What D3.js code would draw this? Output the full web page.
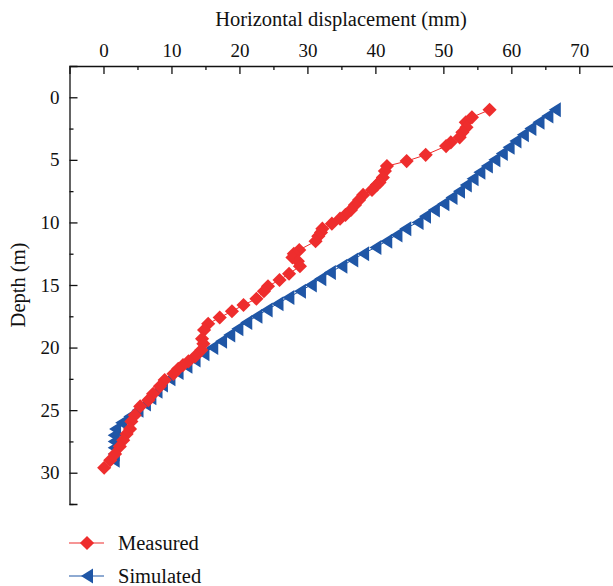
<!DOCTYPE html>
<html>
<head>
<meta charset="utf-8">
<script src="https://cdn.jsdelivr.net/npm/d3@7"></script>
<style>
  body { margin: 0; background: #fff; }
  text { font-family: "Liberation Serif", "Times New Roman", serif; fill: #111; }
</style>
</head>
<body>
<svg id="chart" width="613" height="586"></svg>
<script>
// measured: depth (m) and horizontal displacement (mm)
const measuredDepth = [1.0, 1.6, 2.0, 2.4, 2.8, 3.2, 3.6, 3.9, 4.6, 5.1, 5.5, 5.9, 6.4, 6.8, 7.0, 7.4, 7.8, 8.2, 8.6, 9.0,
  9.4, 9.7, 10.1, 10.5, 10.8, 11.1, 11.5, 12.2, 12.5, 12.8, 13.1, 13.5, 14.1, 14.6, 15.1, 15.5, 16.1, 16.6, 17.1, 17.6,
  18.1, 18.6, 19.3, 19.7, 20.2, 20.7, 21.1, 21.4, 21.7, 22.1, 22.6, 23.1, 23.7, 24.2, 24.7, 25.4, 25.9, 26.5, 26.9, 27.4,
  27.9, 28.5, 29.0, 29.6];
const measuredDisp = [56.8, 54.2, 53.3, 53.4, 52.8, 52.4, 51.1, 50.4, 47.4, 44.6, 41.7, 41.4, 41.1, 40.6, 40.2, 39.5, 38.2, 37.6, 37.0, 36.4,
  35.6, 34.8, 33.6, 32.2, 32.0, 31.6, 31.2, 28.8, 28.0, 27.8, 28.6, 28.9, 27.3, 25.9, 24.2, 23.6, 22.5, 20.6, 18.9, 17.1,
  15.4, 14.8, 14.5, 14.7, 14.4, 13.5, 12.5, 11.7, 11.0, 10.3, 9.0, 8.3, 7.3, 6.6, 5.4, 4.6, 4.1, 3.9, 3.4, 2.9,
  2.4, 1.7, 1.0, 0.1];

// simulated: every 0.5 m from 1 m to 29 m
const simulatedDepth = [1.0, 1.5, 2.0, 2.5, 3.0, 3.5, 4.0, 4.5, 5.0, 5.5, 6.0, 6.5, 7.0, 7.5, 8.0, 8.5, 9.0, 9.5, 10.0, 10.5,
  11.0, 11.5, 12.0, 12.5, 13.0, 13.5, 14.0, 14.5, 15.0, 15.5, 16.0, 16.5, 17.0, 17.5, 18.0, 18.5, 19.0, 19.5, 20.0, 20.5,
  21.0, 21.5, 22.0, 22.5, 23.0, 23.5, 24.0, 24.5, 25.0, 25.5, 26.0, 26.5, 27.0, 27.5, 28.0, 28.5, 29.0];
const simulatedDisp = [66.4, 65.3, 64.0, 62.8, 61.7, 60.6, 59.6, 58.6, 57.5, 56.4, 55.3, 54.3, 53.3, 52.3, 51.2, 50.0, 48.6, 47.3, 46.2, 44.4,
  43.1, 41.6, 40.0, 38.2, 36.6, 35.0, 33.3, 31.9, 30.5, 28.9, 27.2, 25.6, 24.0, 22.5, 21.0, 19.7, 18.5, 17.3, 16.0, 14.7,
  13.4, 12.2, 10.9, 9.7, 8.6, 7.8, 6.9, 6.1, 5.0, 3.8, 2.6, 1.7, 1.5, 1.5, 1.5, 1.5, 1.5];

const xTicks = [0, 10, 20, 30, 40, 50, 60, 70];
const yTicks = [0, 5, 10, 15, 20, 25, 30];
const seriesNames = ["Measured", "Simulated"];

const red = "#ee2d2d", blue = "#1f56a6";

const svg = d3.select("#chart");

const x = d3.scaleLinear().domain([-5, 75]).range([69.5, 613.3]);
const y = d3.scaleLinear().domain([-2.5, 32.5]).range([66, 504]);

// top axis
const xAxis = svg.append("g").attr("transform", "translate(0,66)")
    .call(d3.axisTop(x).tickValues(xTicks).tickSize(-8).tickPadding(10).tickFormat(d3.format("d")));
svg.append("g").attr("transform", "translate(0,66)")
    .call(d3.axisTop(x).tickValues(d3.range(5, 76, 10)).tickSize(-4).tickFormat(""))
    .call(g => g.select(".domain").remove());

// left axis
const yAxis = svg.append("g").attr("transform", "translate(69.5,0)")
    .call(d3.axisLeft(y).tickValues(yTicks).tickSize(-8).tickPadding(10).tickFormat(d3.format("d")));
svg.append("g").attr("transform", "translate(69.5,0)")
    .call(d3.axisLeft(y).tickValues(d3.range(2.5, 33, 5)).tickSize(-4).tickFormat(""))
    .call(g => g.select(".domain").remove());

svg.selectAll(".domain").attr("stroke", "#111").attr("stroke-width", 1.3);
svg.selectAll(".tick line").attr("stroke", "#111").attr("stroke-width", 1.3);
svg.selectAll(".tick text").attr("font-family", "Liberation Serif, serif").attr("font-size", 19).attr("fill", "#111");
xAxis.selectAll(".tick text").attr("y", -9);

svg.append("text")
    .attr("x", 341).attr("y", 26)
    .attr("text-anchor", "middle")
    .attr("font-size", 20.5)
    .text("Horizontal displacement (mm)");

svg.append("text")
    .attr("transform", "translate(25,285) rotate(-90)")
    .attr("text-anchor", "middle")
    .attr("font-size", 20.5)
    .text("Depth (m)");

const measured = measuredDepth.map((d, i) => ({ depth: d, disp: measuredDisp[i] }));
const simulated = simulatedDepth.map((d, i) => ({ depth: d, disp: simulatedDisp[i] }));

const line = d3.line().x(d => x(d.disp)).y(d => y(d.depth));

const diamond = d3.symbol().type(d3.symbolSquare).size(100);
const leftTri = "M-6,0L6,-7.5L6,7.5Z";

svg.append("path").datum(simulated)
    .attr("d", line).attr("fill", "none").attr("stroke", blue).attr("stroke-width", 1);
svg.append("path").datum(measured)
    .attr("d", line).attr("fill", "none").attr("stroke", red).attr("stroke-width", 1);

svg.append("g").selectAll("path")
    .data(simulated)
    .join("path")
    .attr("d", leftTri)
    .attr("transform", d => `translate(${x(d.disp)},${y(d.depth)})`)
    .attr("fill", blue);

svg.append("g").selectAll("path")
    .data(measured)
    .join("path")
    .attr("d", diamond)
    .attr("transform", d => `translate(${x(d.disp)},${y(d.depth)}) rotate(45)`)
    .attr("fill", red);

// legend
const legend = svg.append("g");
seriesNames.forEach((name, i) => {
  const ly = 543 + i * 33;
  const col = i === 0 ? red : blue;
  legend.append("line").attr("x1", 69).attr("x2", 104).attr("y1", ly).attr("y2", ly)
      .attr("stroke", col).attr("stroke-width", 1.2);
  legend.append("path")
      .attr("d", i === 0 ? diamond : leftTri)
      .attr("transform", `translate(87,${ly})` + (i === 0 ? " rotate(45)" : ""))
      .attr("fill", col);
  legend.append("text").attr("x", 118).attr("y", ly + 7)
      .attr("font-size", 20.5).text(name);
});
</script>
</body>
</html>
